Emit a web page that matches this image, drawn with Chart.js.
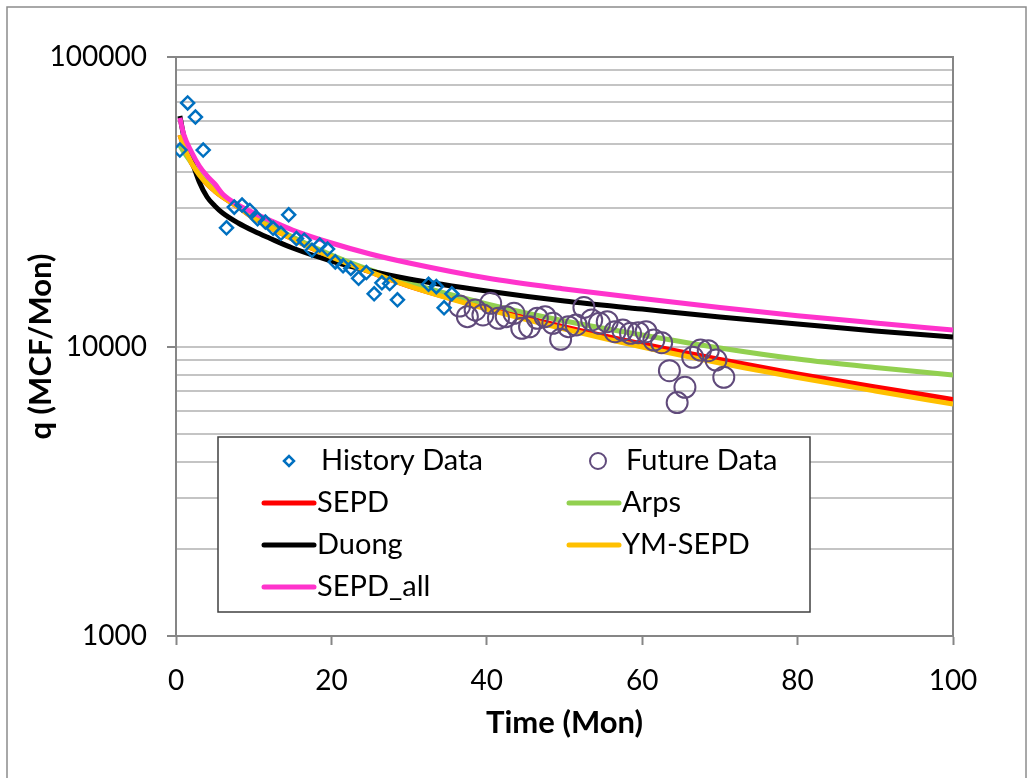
<!DOCTYPE html>
<html>
<head>
<meta charset="utf-8">
<script src="https://cdn.jsdelivr.net/npm/chart.js@4.4.1/dist/chart.umd.min.js"></script>
<style>
	html, body { margin: 0; padding: 0; background: #fff; }
	#wrap { width: 1033px; height: 778px; }
</style>
</head>
<body>
<div id="wrap"><canvas id="myChart" width="1033" height="778"></canvas></div>
<script>
// datos
const histT = [0.5, 1.5, 2.5, 3.5, 6.5, 7.5, 8.5, 9.5, 10.5, 11.5, 12.5, 13.5, 14.5, 15.5, 16.5, 17.5, 18.5, 19.5,
	20.5, 21.5, 22.5, 23.5, 24.5, 25.5, 26.5, 27.5, 28.5, 32.5, 33.5, 34.5, 35.5];
const histQ = [47700, 69400, 62000, 47700, 25700, 30300, 30800, 29500, 27600, 26900, 25600, 24600, 28500, 23600, 23300, 21500, 22400, 21700,
	19600, 19000, 18600, 17200, 18000, 15200, 16600, 16500, 14500, 16400, 16100, 13600, 15200];

const futT = [36.5, 37.5, 38.5, 39.5, 40.5, 41.5, 42.5, 43.5, 44.5, 45.5, 46.5, 47.5, 48.5, 49.5, 50.5, 51.5, 52.5, 53.5,
	54.5, 55.5, 56.5, 57.5, 58.5, 59.5, 60.5, 61.5, 62.5, 63.5, 64.5, 65.5, 66.5, 67.5, 68.5, 69.5, 70.5];
const futQ = [13800, 12680, 13370, 12850, 14100, 12520, 12680, 13020, 11560, 11700, 12520, 12680, 12030, 10590, 11710, 11870, 13640, 12350,
	12030, 12180, 11250, 11400, 11110, 11160, 11250, 10530, 10310, 8250, 6400, 7230, 9180, 9720, 9670, 8980, 7830];

const modelT = [0.5, 1, 2, 3, 4, 5, 6, 8, 10, 12, 15, 20, 25, 30, 40, 50, 60, 70, 80, 90, 100];
const sepd = [53780, 49270, 43040, 39120, 36420, 34450, 32840, 30330, 27790, 25870, 23510, 20380, 18090, 16180, 13580, 11680, 10200, 9020, 8040, 7250, 6560];
const arps = [49500, 47000, 43040, 39440, 36710, 34720, 33110, 30580, 28240, 26280, 23890, 20710, 18380, 16570, 14030, 12250, 10960, 9880, 9050, 8460, 7970];
const duong = [62550, 53350, 44080, 37000, 32840, 30580, 28920, 26710, 25060, 23700, 21890, 19740, 18230, 17110, 15550, 14360, 13470, 12650, 11960, 11310, 10790];
const ymSepd = [53780, 49270, 43040, 39120, 36420, 34450, 32840, 30330, 27790, 25870, 23510, 20380, 18090, 16180, 13470, 11490, 9960, 8770, 7815, 7020, 6330];
const sepdAll = [61610, 53950, 46970, 42020, 38810, 36420, 33640, 30830, 28920, 27350, 25260, 22780, 20870, 19430, 17240, 15800, 14650, 13640, 12780, 12060, 11400];

const xTicks = [0, 20, 40, 60, 80, 100];
const yTicks = [1000, 2000, 3000, 4000, 5000, 6000, 7000, 8000, 9000, 10000,
	20000, 30000, 40000, 50000, 60000, 70000, 80000, 90000, 100000];

const FONT = 'Lato, "Open Sans", sans-serif';

(function () {
	const ctx = document.getElementById('myChart');

	const pares = (xs, ys) => xs.map((x, i) => ({ x: x, y: ys[i] }));
	const esMayor = v => Number.isInteger(Math.log10(v));

	function linea(label, datos, color, orden) {
		return {
			label: label,
			data: pares(modelT, datos),
			showLine: true,
			borderColor: color,
			backgroundColor: color,
			borderWidth: 5,
			pointRadius: 0,
			cubicInterpolationMode: 'monotone',
			order: orden
		};
	}

	// fondo y marco exterior
	const fondo = {
		id: 'fondo',
		beforeDraw(chart) {
			const c = chart.ctx;
			c.save();
			c.fillStyle = '#fff';
			c.fillRect(0, 0, chart.width, chart.height);
			c.strokeStyle = '#8c8c8c';
			c.lineWidth = 1.5;
			c.strokeRect(7, 7, 1019, 800);
			c.restore();
		},
		beforeDatasetsDraw(chart) {
			const a = chart.chartArea;
			const c = chart.ctx;
			c.save();
			c.strokeStyle = '#868686';
			c.lineWidth = 2;
			c.strokeRect(a.left, a.top, a.right - a.left, a.bottom - a.top);
			c.restore();
		}
	};

	// leyenda en recuadro dentro del area
	const leyenda = {
		id: 'leyenda',
		afterDraw(chart) {
			const c = chart.ctx;
			const x0 = 218, y0 = 437, w = 592, h = 175;
			c.save();
			c.fillStyle = '#fff';
			c.fillRect(x0, y0, w, h);
			c.strokeStyle = '#404040';
			c.lineWidth = 1.5;
			c.strokeRect(x0, y0, w, h);
			c.font = '29px ' + FONT;
			c.textBaseline = 'middle';
			c.fillStyle = '#000';
			const cols = [262, 567];
			const filas = [461, 503, 545, 587];
			chart.data.datasets.forEach((ds, i) => {
				const cx = cols[i % 2];
				const cy = filas[Math.floor(i / 2)];
				if (ds.showLine) {
					c.strokeStyle = ds.borderColor;
					c.lineWidth = 5;
					c.lineCap = 'round';
					c.beginPath();
					c.moveTo(cx + 2, cy);
					c.lineTo(cx + 52, cy);
					c.stroke();
					c.fillText(ds.label, cx + 55, cy);
				} else {
					c.strokeStyle = ds.borderColor;
					c.lineWidth = ds.borderWidth;
					c.beginPath();
					if (ds.pointStyle === 'rectRot') {
						const r = 5;
						c.moveTo(cx + 27 - r, cy);
						c.lineTo(cx + 27, cy - r);
						c.lineTo(cx + 27 + r, cy);
						c.lineTo(cx + 27, cy + r);
						c.closePath();
					} else {
						c.arc(cx + 31, cy, 8, 0, Math.PI * 2);
					}
					c.stroke();
					c.fillText(ds.label, cx + 59, cy);
				}
			});
			c.restore();
		}
	};

	new Chart(ctx, {
		type: 'scatter',
		data: {
			datasets: [
				{
					label: 'History Data',
					data: pares(histT, histQ),
					pointStyle: 'rectRot',
					pointRadius: 6.5,
					pointHoverRadius: 6.5,
					borderColor: '#0070C0',
					backgroundColor: 'rgba(0,0,0,0)',
					borderWidth: 2.5,
					order: 0
				},
				{
					label: 'Future Data',
					data: pares(futT, futQ),
					pointStyle: 'circle',
					pointRadius: 10.5,
					pointHoverRadius: 10.5,
					borderColor: '#604A7B',
					backgroundColor: 'rgba(0,0,0,0)',
					borderWidth: 2,
					order: 0
				},
				linea('SEPD', sepd, '#FF0000', 5),
				linea('Arps', arps, '#92D050', 4),
				linea('Duong', duong, '#000000', 3),
				linea('YM-SEPD', ymSepd, '#FFC000', 2),
				linea('SEPD_all', sepdAll, '#FF33CC', 1)
			]
		},
		options: {
			responsive: false,
			devicePixelRatio: 1,
			animation: false,
			layout: { padding: { top: 57, right: 80, left: 0, bottom: 0 } },
			plugins: {
				legend: { display: false },
				tooltip: { enabled: false }
			},
			scales: {
				x: {
					type: 'linear',
					min: 0,
					max: 100,
					afterBuildTicks: scale => { scale.ticks = xTicks.map(v => ({ value: v })); },
					afterFit: scale => { scale.height = 142; },
					border: { color: '#868686', width: 2 },
					grid: { drawOnChartArea: false, drawTicks: true, tickLength: 9, tickColor: '#868686', tickWidth: 2 },
					ticks: { color: '#000', padding: 19, autoSkip: false, maxRotation: 0, font: { family: FONT, size: 28 } },
					title: {
						display: true,
						text: 'Time (Mon)',
						color: '#000',
						padding: { top: 0, bottom: 36 },
						font: { family: FONT, size: 31, weight: 'bold' }
					}
				},
				y: {
					type: 'logarithmic',
					min: 1000,
					max: 100000,
					afterBuildTicks: scale => { scale.ticks = yTicks.map(v => ({ value: v })); },
					afterFit: scale => { scale.width = 176; },
					border: { color: '#868686', width: 2 },
					grid: {
						color: '#C4C4C4',
						lineWidth: 2,
						drawTicks: true,
						tickLength: 9,
						tickColor: c => esMayor(c.tick.value) ? '#868686' : 'rgba(0,0,0,0)',
						tickWidth: 2
					},
					ticks: {
						color: '#000',
						padding: 20,
						autoSkip: false,
						font: { family: FONT, size: 28 },
						callback: v => esMayor(v) ? String(v) : ''
					},
					title: {
						display: true,
						text: 'q (MCF/Mon)',
						color: '#000',
						padding: { top: 22, bottom: 0 },
						font: { family: FONT, size: 31, weight: 'bold' }
					}
				}
			}
		},
		plugins: [fondo, leyenda]
	});
})();
</script>
</body>
</html>
